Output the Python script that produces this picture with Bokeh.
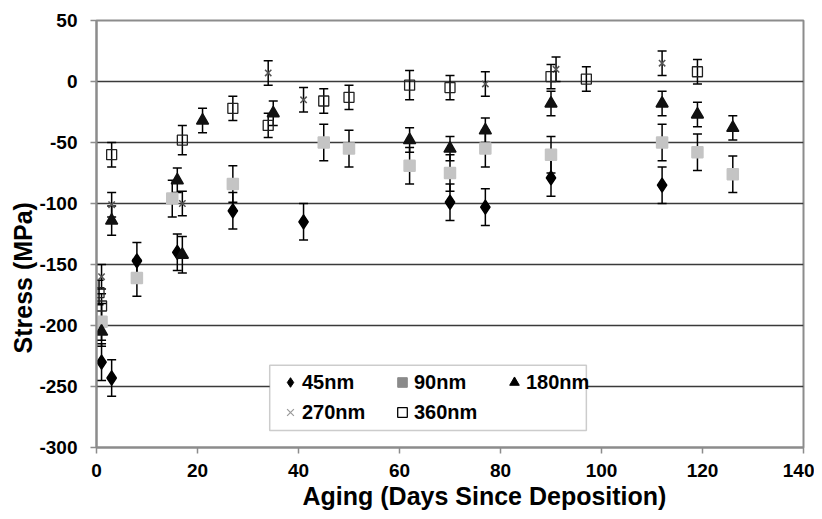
from bokeh.plotting import figure
from bokeh.models import (ColumnDataSource, Whisker, TeeHead, Range1d, Legend,
                          LegendItem, FixedTicker, BoxAnnotation, Title)
from bokeh.embed import file_html
from bokeh.resources import INLINE

# ---- data ----
x_ticks = [0, 20, 40, 60, 80, 100, 120, 140]
y_ticks = [-300, -250, -200, -150, -100, -50, 0, 50]

days_45 = [1, 3, 8, 16, 27, 41, 70, 77, 90, 112]
stress_45 = [-230, -243, -147, -140, -106, -115, -99, -103, -79, -85]
err_45 = [15, 15, 15, 15, 15, 15, 15, 15, 15, 15]

days_90 = [1, 8, 15, 27, 45, 50, 62, 70, 77, 90, 112, 119, 126]
stress_90 = [-197, -161, -96, -84, -50, -55, -69, -75, -55, -60, -50, -58, -76]
err_90 = [15, 15, 15, 15, 15, 15, 15, 15, 15, 15, 15, 15, 15]

days_180 = [1, 3, 16, 17, 21, 35, 62, 70, 77, 90, 112, 119, 126]
stress_180 = [-205, -114, -81, -142, -32, -26, -48, -55, -40, -18, -18, -27, -38]
err_180 = [12, 12, 10, 15, 10, 10, 10, 10, 10, 10, 10, 10, 10]

days_270 = [1, 3, 17, 34, 41, 77, 91, 112]
stress_270 = [-160, -101, -100, 7, -15, -2, 10, 15]
err_270 = [10, 10, 10, 10, 10, 10, 10, 10]

days_360 = [0.5, 1, 3, 17, 27, 34, 45, 50, 62, 70, 90, 97, 119]
stress_360 = [-173, -184, -60, -48, -22, -36, -16, -13, -3, -5, 4, 2, 8]
err_360 = [10, 10, 10, 12, 10, 10, 10, 10, 12, 10, 10, 10, 10]

labels = ["45nm", "90nm", "180nm", "270nm", "360nm"]
x_title = "Aging (Days Since Deposition)"
y_title = "Stress (MPa)"

FONT = "Liberation Sans"

p = figure(width=814, height=514, output_backend="svg", toolbar_location=None,
           x_range=Range1d(0, 140), y_range=Range1d(-300, 50),
           min_border_left=96, min_border_right=11, min_border_top=20,
           min_border_bottom=67)

p.background_fill_color = "white"
p.border_fill_color = "white"
p.outline_line_color = "#8c8c8c"
p.outline_line_width = 2

p.xgrid.visible = False
p.ygrid.grid_line_color = "#3a3a3a"
p.ygrid.grid_line_width = 1.5

for ax in (p.xaxis, p.yaxis):
    ax.axis_line_color = "#8c8c8c"
    ax.axis_line_width = 2
    ax.major_tick_line_color = "#8c8c8c"
    ax.major_tick_line_width = 1.5
    ax.major_tick_out = 6
    ax.major_tick_in = 0
    ax.minor_tick_line_color = None
    ax.major_label_text_font = FONT
    ax.major_label_text_font_style = "bold"
    ax.major_label_text_font_size = "19px"
    ax.major_label_text_color = "black"

p.xaxis.ticker = FixedTicker(ticks=x_ticks)
p.yaxis.ticker = FixedTicker(ticks=y_ticks)
p.xaxis.major_label_overrides = {t: str(t) for t in x_ticks}
p.yaxis.major_label_overrides = {t: str(t) for t in y_ticks}
p.xaxis.major_label_standoff = 10
p.yaxis.major_label_standoff = 13

# axis titles (off-centre as in the reference)
title_style = dict(text_font=FONT, text_font_style="bold", text_font_size="25px",
                   text_color="black", align="left", standoff=0)
p.add_layout(Title(text=x_title, offset=206, **title_style), "below")
p.add_layout(Title(text=y_title, offset=94, **title_style), "left")


def add_series(days, vals, errs, marker, size, fill, line, line_width=1.5, fill_alpha=1.0):
    src = ColumnDataSource(dict(
        x=days, y=vals,
        upper=[v + e for v, e in zip(vals, errs)],
        lower=[v - e for v, e in zip(vals, errs)],
    ))
    w = Whisker(base="x", upper="upper", lower="lower", source=src,
                line_color="black", line_width=1.5,
                upper_head=TeeHead(size=9, line_color="black", line_width=1.5),
                lower_head=TeeHead(size=9, line_color="black", line_width=1.5))
    p.add_layout(w)
    p.scatter("x", "y", source=src, marker=marker, size=size,
              fill_color=fill, fill_alpha=fill_alpha, line_color=line,
              line_width=line_width)


add_series(days_45, stress_45, err_45, "diamond", 14, "black", "black")
add_series(days_90, stress_90, err_90, "square", 11, "#c4c4c4", "#c4c4c4")
add_series(days_180, stress_180, err_180, "triangle", 12, "#111111", "#111111")
add_series(days_270, stress_270, err_270, "x", 9, None, "#555555", 1.5)
add_series(days_360, stress_360, err_360, "square", 10, "white", "#222222", 1.3, 0.0)

# legend frame (white box drawn under the legend entries)
box = BoxAnnotation(left=34.3, right=97.0, top=-232.5, bottom=-286.0,
                    fill_color="white", fill_alpha=1.0,
                    line_color="#555555", line_width=1.5, level="annotation")
p.add_layout(box)

# legend glyph renderers (a single NaN point: nothing shows in the plot)
nan = float("nan")
def legend_glyph(**kw):
    return p.scatter("x", "y", source=ColumnDataSource(dict(x=[nan], y=[nan])), **kw)

lg = [
    legend_glyph(marker="diamond", fill_color="black", line_color="black"),
    legend_glyph(marker="square", fill_color="#8a8a8a", line_color="#8a8a8a"),
    legend_glyph(marker="triangle", fill_color="black", line_color="black"),
    legend_glyph(marker="x", fill_color=None, line_color="#9a9a9a", line_width=1.2),
    legend_glyph(marker="square", fill_color="white", line_color="black", line_width=1.3),
]
order = [0, 3, 1, 4, 2]  # column-major fill -> rows: 45/90/180 then 270/360
items = [LegendItem(label=labels[i], renderers=[lg[i]]) for i in order]
legend = Legend(items=items, ncols=3, location=(182, 23),
                glyph_width=24, glyph_height=24, label_standoff=0,
                label_width=82, label_height=24, spacing=6, padding=0, margin=0,
                label_text_font=FONT, label_text_font_style="bold",
                label_text_font_size="20px", label_text_color="black",
                border_line_color=None, background_fill_alpha=0.0)
p.add_layout(legend, "center")

open("out.html", "w").write(file_html(p, INLINE))
